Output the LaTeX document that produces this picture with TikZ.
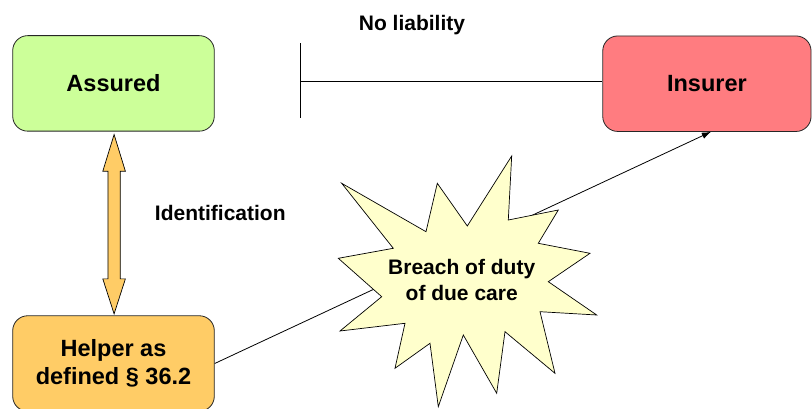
\documentclass[tikz,border=0pt]{standalone}
\usepackage{fontspec}
\setmainfont{Liberation Sans}
\usetikzlibrary{calc,arrows.meta}
\definecolor{assuredfill}{HTML}{CCFF99}
\definecolor{insurerfill}{HTML}{FF7C80}
\definecolor{helperfill}{HTML}{FFCC66}
\definecolor{burstfill}{HTML}{FFFFCC}
\begin{document}
\begin{tikzpicture}[x=1pt,y=-1pt,
  box/.style={draw=black!85, line width=0.8pt, rounded corners=15pt,
    minimum width=201.6pt, minimum height=95.5pt, inner sep=0pt, align=center,
    font=\bfseries\fontsize{23.5}{28}\selectfont},
  lbl/.style={inner sep=0pt, align=center, font=\bfseries\fontsize{21}{26.6}\selectfont},
  conn/.style={line width=0.8pt, black},
  dblarrow/.style={draw=black, line width=0.7pt, fill=helperfill},
  burst/.style={draw=black, line width=0.7pt, fill=burstfill}]
\useasboundingbox (0,0) rectangle (812,409);

\node[box, fill=assuredfill] (assured) at (113.5,83.4) {Assured};
\node[box, fill=insurerfill, minimum width=208.3pt] (insurer) at (706.9,83.7) {Insurer};
\node[box, fill=helperfill] (helper) at (113.5,363.5) {Helper as\\defined \S{} 36.2};

% No liability
\coordinate (nlbar) at (300.7,81);
\draw[conn] (nlbar) -- (nlbar -| insurer.west);
\draw[conn] ($(nlbar)+(0,-37.7)$) -- ($(nlbar)+(0,37.3)$);
\node[lbl] (nolia) at (412,25) {No liability};

% Identification double arrow
\coordinate (ta) at ($(assured.south)+(0.6,3)$);
\coordinate (tb) at ($(helper.north)+(0.6,-1.5)$);
\draw[dblarrow] (ta) -- ++(11.3,36.7) -- ++(-5.1,0) -- ($(tb)+(6.2,-35)$) -- ++(5.1,0)
  -- (tb) -- ++(-11.3,-35) -- ++(5.1,0) -- ($(ta)+(-6.2,36.7)$) -- ++(-5.1,0) -- cycle;
\node[lbl] (ident) at (220.3,212.7) {Identification};

% Helper to insurer line (behind the burst)
\draw[conn, -{Latex[length=9pt,width=6.5pt]}] (helper.east) -- ([xshift=4pt]insurer.south);

% Burst
\draw[burst] (341.7,183.3) -- (426,231.7) -- (437.3,183.3) -- (467.3,226) -- (511.7,156)
  -- (508.3,220) -- (558.3,210) -- (538.3,243.3) -- (590,253.3) -- (548.3,281.7)
  -- (596.7,315) -- (540,311.7) -- (555,373.3) -- (505,331.7) -- (496.7,393.3)
  -- (463.3,335) -- (438.3,406.7) -- (430,343.3) -- (395,368.3) -- (405,323.3)
  -- (340,331) -- (381.7,296.7) -- (338.3,258.3) -- (393.3,248.3) -- cycle;
\node[lbl] (breach) at (461.7,280) {Breach of duty\\of due care};
\end{tikzpicture}
\end{document}
